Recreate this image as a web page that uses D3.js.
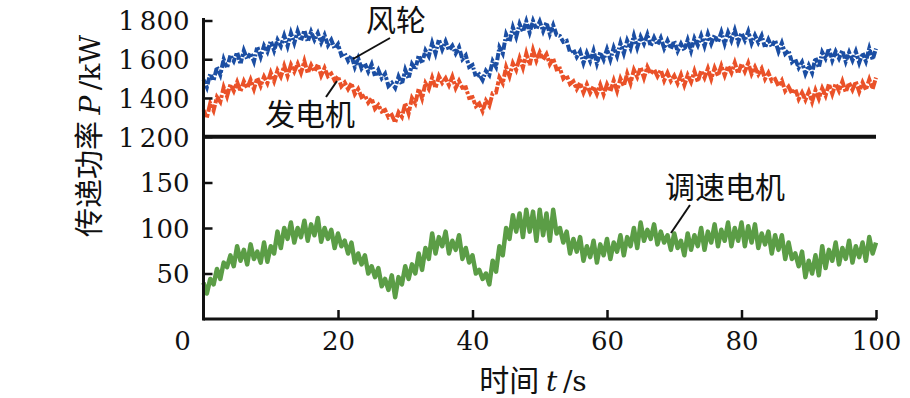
<!DOCTYPE html>
<html>
<head>
<meta charset="utf-8">
<script src="https://cdn.jsdelivr.net/npm/d3@7"></script>
<style>
  body { margin: 0; background: #fff; }
</style>
</head>
<body>
<div id="chart"></div>
<script>
// time axis, one sample every 0.5 s
var times = d3.range(201).map(function(i) { return i / 2; });

// 风轮 power (kW), upper panel
var windRotor = [
  1495,1455,1525,1490,1560,1520,1600,1555,1620,1590,1636,1575,1645,1600,1632,1588,1665,1612,1670,1638,
  1695,1645,1700,1668,1722,1668,1735,1684,1745,1696,1750,1690,1742,1700,1735,1686,1725,1672,1700,1655,
  1678,1620,1630,1592,1618,1560,1605,1552,1578,1536,1574,1512,1545,1502,1525,1462,1478,1452,1510,1470,
  1545,1500,1575,1548,1620,1580,1645,1615,1684,1630,1702,1650,1692,1646,1670,1630,1662,1600,1620,1560,
  1570,1510,1522,1492,1540,1518,1590,1560,1662,1630,1728,1690,1765,1715,1782,1742,1796,1738,1798,1755,
  1795,1745,1790,1730,1776,1726,1720,1690,1695,1636,1650,1612,1640,1580,1632,1590,1644,1578,1636,1598,
  1652,1598,1660,1616,1684,1630,1696,1656,1722,1660,1716,1680,1728,1668,1712,1674,1710,1656,1696,1654,
  1694,1642,1680,1646,1700,1644,1708,1672,1722,1668,1730,1680,1724,1688,1740,1680,1738,1696,1750,1688,
  1736,1698,1744,1682,1724,1686,1722,1660,1702,1664,1698,1640,1684,1628,1645,1585,1600,1556,1585,1525,
  1568,1530,1608,1556,1636,1604,1655,1594,1640,1604,1646,1588,1636,1594,1640,1582,1632,1590,1656,1598,
  1655
];

// 发电机 power (kW), upper panel
var generator = [
  1338,1298,1372,1335,1405,1380,1455,1408,1470,1436,1482,1434,1486,1450,1494,1446,1505,1462,1510,1476,
  1530,1486,1542,1510,1566,1514,1572,1536,1576,1530,1590,1528,1570,1536,1574,1516,1555,1512,1526,1490,
  1512,1460,1480,1446,1476,1420,1446,1404,1414,1376,1398,1344,1364,1330,1338,1300,1312,1274,1326,1302,
  1372,1320,1400,1372,1448,1398,1476,1446,1505,1452,1512,1478,1502,1466,1510,1452,1488,1452,1455,1400,
  1404,1358,1372,1332,1386,1360,1425,1428,1506,1476,1560,1512,1580,1545,1606,1556,1630,1570,1648,1592,
  1636,1598,1626,1574,1604,1548,1552,1500,1516,1472,1486,1446,1478,1428,1470,1426,1460,1420,1468,1418,
  1470,1434,1490,1436,1500,1462,1526,1476,1545,1508,1558,1504,1560,1524,1548,1512,1545,1490,1530,1488,
  1515,1476,1520,1466,1518,1482,1538,1484,1540,1504,1552,1498,1555,1514,1566,1516,1566,1530,1582,1526,
  1576,1536,1580,1524,1560,1522,1552,1498,1530,1488,1498,1462,1490,1436,1458,1424,1446,1394,1428,1390,
  1432,1380,1440,1396,1450,1412,1472,1420,1474,1436,1486,1430,1478,1442,1484,1432,1480,1442,1495,1446,
  1505
];

// 调速电机 power (kW), lower panel
var speedMotor = [
  40,28,44,38,55,44,62,57,70,58,80,64,76,60,82,66,74,62,84,63,
  80,72,96,78,100,88,106,84,100,90,108,86,104,92,111,85,100,88,98,78,
  94,80,86,72,84,62,72,60,70,50,58,46,56,36,44,32,48,24,46,38,
  58,44,60,50,72,54,78,66,94,72,90,80,96,72,86,76,92,66,78,62,
  70,50,54,44,50,38,64,52,80,70,100,88,114,96,116,90,120,96,118,86,
  120,92,116,86,120,94,100,84,96,72,88,74,90,64,80,68,86,62,82,70,
  88,66,84,74,92,70,90,80,100,78,106,86,98,88,104,82,96,84,92,76,
  94,78,86,70,94,76,92,80,100,76,96,84,104,80,98,86,106,80,100,86,
  106,80,102,84,104,78,94,82,96,72,92,76,92,66,84,66,72,58,74,46,
  64,50,70,48,80,56,76,64,84,60,78,66,86,62,80,68,84,64,90,72,
  84
];

var topTicks = [1200, 1400, 1600, 1800];
var bottomTicks = [50, 100, 150];
var xTicks = [0, 20, 40, 60, 80, 100];

var serif = "'DejaVu Serif', 'Liberation Serif', serif";
var cjk = "'Noto Sans CJK SC', 'Noto Sans', sans-serif";
var numSize = 26;

var width = 910, height = 398;
var svg = d3.select("#chart").append("svg")
    .attr("width", width)
    .attr("height", height);

// scales
var x = d3.scaleLinear().domain([0, 100]).range([203.5, 876]);
var yTop = d3.scaleLinear().domain([1200, 1800]).range([136.7, 20.5]);
var yBot = d3.scaleLinear().domain([0, 150]).range([319, 182.5]);

var fmtTop = function(d) { var s = String(d); return s.slice(0, 1) + "\u2009" + s.slice(1); };

// lines
function series(vals, y) {
  return d3.line()
    .x(function(d, i) { return x(times[i]); })
    .y(function(d) { return y(d); })(vals);
}
svg.append("path")
    .attr("d", series(windRotor, yTop))
    .attr("fill", "none")
    .attr("stroke", "#1b4ea3")
    .attr("stroke-width", 4)
    .attr("stroke-dasharray", "5 1.5 3 2 7 1.5 2 2");
svg.append("path")
    .attr("d", series(generator, yTop))
    .attr("fill", "none")
    .attr("stroke", "#ea5128")
    .attr("stroke-width", 4)
    .attr("stroke-dasharray", "7 1.5 4 2 9 1.5 3 2");
svg.append("path")
    .attr("d", series(speedMotor, yBot))
    .attr("fill", "none")
    .attr("stroke", "#5b9d46")
    .attr("stroke-width", 4.5)
    .attr("stroke-linejoin", "round");

// axes
var gTop = svg.append("g")
    .attr("transform", "translate(" + x(0) + ",0)")
    .call(d3.axisLeft(yTop).tickValues(topTicks).tickSizeInner(-9).tickSizeOuter(0).tickPadding(14).tickFormat(fmtTop));
var gBot = svg.append("g")
    .attr("transform", "translate(" + x(0) + ",0)")
    .call(d3.axisLeft(yBot).tickValues(bottomTicks).tickSizeInner(-9).tickSizeOuter(0).tickPadding(14));
var gX = svg.append("g")
    .attr("transform", "translate(0," + yBot(0) + ")")
    .call(d3.axisBottom(x).tickValues(xTicks).tickSizeInner(-9).tickSizeOuter(0).tickPadding(13));

[gTop, gBot, gX].forEach(function(g) {
  g.attr("font-family", serif).attr("font-size", numSize);
  g.select(".domain").remove();
  g.selectAll(".tick line").attr("stroke", "#111").attr("stroke-width", 2.5);
  g.selectAll(".tick text").attr("fill", "#111");
});
gTop.selectAll(".tick text").attr("dy", "0.36em");
gBot.selectAll(".tick text").attr("dy", "0.36em");
// the 0 sits left of the corner, no tick mark there
gX.selectAll(".tick").filter(function(d) { return d === 0; })
  .call(function(t) {
    t.select("line").remove();
    t.select("text").attr("x", -21.5);
  });

// axis lines
svg.append("line")
    .attr("x1", x(0)).attr("x2", x(0))
    .attr("y1", 18).attr("y2", yBot(0) + 1.5)
    .attr("stroke", "#111").attr("stroke-width", 3);
svg.append("line")
    .attr("x1", x(0)).attr("x2", x(100) + 1)
    .attr("y1", yBot(0)).attr("y2", yBot(0))
    .attr("stroke", "#111").attr("stroke-width", 3);
// break line at 1200
svg.append("line")
    .attr("x1", x(0)).attr("x2", x(100))
    .attr("y1", yTop(1200)).attr("y2", yTop(1200))
    .attr("stroke", "#111").attr("stroke-width", 4);

// axis titles
var xt = svg.append("text")
    .attr("x", 533).attr("y", 391)
    .attr("text-anchor", "middle")
    .attr("font-family", cjk).attr("font-size", 30).attr("fill", "#111");
xt.append("tspan").text("时间 ");
xt.append("tspan").attr("font-family", serif).attr("font-style", "italic").attr("font-size", 28).text("t");
xt.append("tspan").attr("font-family", serif).attr("font-size", 28).text("\u2009/s");

var yt = svg.append("text")
    .attr("transform", "translate(100,136) rotate(-90)")
    .attr("text-anchor", "middle")
    .attr("font-family", cjk).attr("font-size", 29).attr("fill", "#111");
yt.append("tspan").text("传递功率 ");
yt.append("tspan").attr("font-family", serif).attr("font-style", "italic").attr("font-size", 28).text("P");
yt.append("tspan").attr("font-family", serif).attr("font-size", 28).text("\u2009/kW");

// annotations
var notes = [
  { label: "风轮", tx: 366, ty: 31, x1: 390, y1: 38, x2: 353, y2: 59 },
  { label: "发电机", tx: 265, ty: 125, x1: 326, y1: 97, x2: 337, y2: 81 },
  { label: "调速电机", tx: 665, ty: 198, x1: 690, y1: 205, x2: 671, y2: 233 }
];
notes.forEach(function(n) {
  svg.append("line")
      .attr("x1", n.x1).attr("y1", n.y1)
      .attr("x2", n.x2).attr("y2", n.y2)
      .attr("stroke", "#111").attr("stroke-width", 2);
  svg.append("text")
      .attr("x", n.tx).attr("y", n.ty)
      .attr("font-family", cjk).attr("font-size", 30).attr("fill", "#111")
      .text(n.label);
});
</script>
</body>
</html>
